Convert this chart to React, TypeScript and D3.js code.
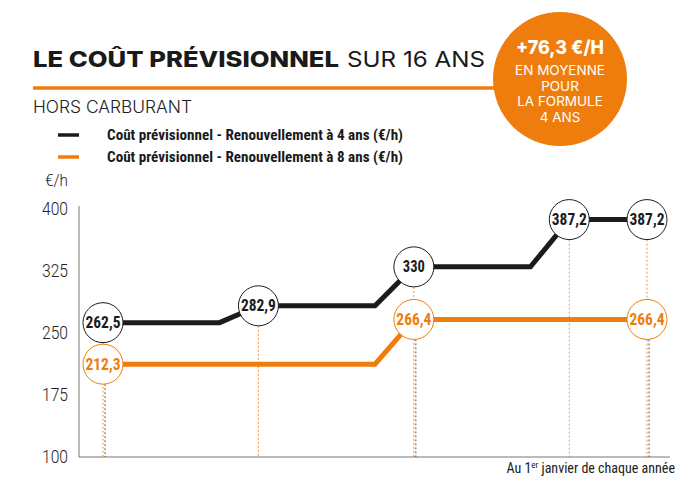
import React from "react";
import * as d3 from "d3";

const years = [0, 4, 8, 12, 14];
const cost4 = [262.5, 282.9, 330, 387.2, 387.2];
const cost8 = [212.3, 212.3, 266.4, 266.4, 266.4];
const cost8Labels = [0, 2, 4]; // indices of labelled nodes for 8-year series
const yTicks = [100, 175, 250, 325, 400];
const fmt = (v: number) => String(v).replace(".", ",");

const W = 700;
const H = 492;
const BLACK = "#1b1b1b";
const ORANGE = "#EE7D0E";
const NARROW = "'Liberation Sans Narrow', 'Roboto Condensed', Roboto, sans-serif";
const LIGHT = "Roboto, 'Liberation Sans', sans-serif";

function stepPoints(vals: number[]): [number, number][] {
  const pts: [number, number][] = [[years[0], vals[0]]];
  for (let i = 1; i < years.length; i++) {
    pts.push([years[i] - 1, vals[i - 1]]);
    pts.push([years[i], vals[i]]);
  }
  return pts;
}

export default function App() {
  const x = d3.scaleLinear().domain([0, 14]).range([103, 647]);
  const y = d3.scaleLinear().domain([100, 400]).range([457, 209]);
  const line = d3
    .line<[number, number]>()
    .x((d) => x(d[0]))
    .y((d) => y(d[1]));
  const R = 20;

  const nodeLabel = (
    cx: number,
    cy: number,
    txt: string,
    color: string,
    key: string
  ) => (
    <g key={key}>
      <circle cx={cx} cy={cy} r={R} fill="#fff" stroke={color} strokeWidth={1} />
      <text
        x={cx}
        y={cy + 5.5}
        textAnchor="middle"
        fontFamily={NARROW}
        fontWeight="bold"
        fontSize={16}
        fill={color}
        textLength={txt.length > 3 ? 35 : 22}
        lengthAdjust="spacingAndGlyphs"
      >
        {txt}
      </text>
    </g>
  );

  return (
    <svg width={W} height={H} style={{ position: "absolute", left: 0, top: 0, background: "#fff" }}>
      {/* Title */}
      <text x={33} y={67} fontFamily="Inter, Roboto, sans-serif" fontSize={22} fill="#1a1a1a">
        <tspan fontWeight="800" textLength={306} lengthAdjust="spacingAndGlyphs">
          LE COÛT PRÉVISIONNEL
        </tspan>
      </text>
      <text
        x={347}
        y={67}
        fontFamily="Inter, Roboto, sans-serif"
        fontSize={22}
        fill="#1a1a1a"
        textLength={138}
        lengthAdjust="spacingAndGlyphs"
      >
        SUR 16 ANS
      </text>
      <line x1={33} x2={500} y1={88} y2={88} stroke={ORANGE} strokeWidth={3.5} />
      <text
        x={33}
        y={113}
        fontFamily="Inter, Roboto, sans-serif"
        fontSize={17}
        fontWeight="300"
        fill="#222"
        textLength={159}
        lengthAdjust="spacingAndGlyphs"
      >
        HORS CARBURANT
      </text>

      {/* Badge */}
      <circle cx={560} cy={79} r={67} fill={ORANGE} />
      <text x={560} y={54} textAnchor="middle" fontFamily="Inter, Roboto, sans-serif" fontWeight="800" fontSize={19} fill="#fff" textLength={88} lengthAdjust="spacingAndGlyphs">
        +76,3 €/H
      </text>
      {["EN MOYENNE", "POUR", "LA FORMULE", "4 ANS"].map((t, i) => (
        <text
          key={t}
          x={560}
          y={75 + i * 15.5}
          textAnchor="middle"
          fontFamily="Inter, Roboto, sans-serif"
          fontSize={13.5}
          fill="#fff"
        >
          {t}
        </text>
      ))}

      {/* Legend */}
      <line x1={58} x2={79} y1={135} y2={135} stroke={BLACK} strokeWidth={3.5} />
      <text x={107} y={140} fontFamily={NARROW} fontWeight="bold" fontSize={15} fill="#1a1a1a" textLength={296} lengthAdjust="spacingAndGlyphs">
        Coût prévisionnel - Renouvellement à 4 ans (€/h)
      </text>
      <line x1={58} x2={79} y1={157} y2={157} stroke={ORANGE} strokeWidth={3.5} />
      <text x={107} y={162} fontFamily={NARROW} fontWeight="bold" fontSize={15} fill="#1a1a1a" textLength={296} lengthAdjust="spacingAndGlyphs">
        Coût prévisionnel - Renouvellement à 8 ans (€/h)
      </text>

      {/* Y unit */}
      <text x={45} y={186} fontFamily={LIGHT} fontWeight="300" fontSize={17} fill="#222" textLength={23} lengthAdjust="spacingAndGlyphs">
        €/h
      </text>

      {/* Y ticks */}
      {yTicks.map((t) => (
        <text
          key={t}
          x={68}
          y={y(t) + 6}
          textAnchor="end"
          fontFamily={LIGHT}
          fontWeight="300"
          fontSize={18}
          fill="#222"
          textLength={26}
          lengthAdjust="spacingAndGlyphs"
        >
          {t}
        </text>
      ))}

      {/* Axes */}
      <line x1={79} x2={79} y1={206} y2={457} stroke="#777" strokeWidth={1} />
      <line x1={79} x2={670} y1={457} y2={457} stroke="#777" strokeWidth={1} />

      {/* Dashed drop lines */}
      {years.map((t, i) => (
        <line
          key={"d4" + i}
          x1={x(t)}
          x2={x(t)}
          y1={y(cost4[i]) + R}
          y2={457}
          stroke={ORANGE}
          strokeWidth={0.8}
          strokeDasharray="2,2"
        />
      ))}
      {cost8Labels.map((i) => (
        <line
          key={"d8" + i}
          x1={x(years[i]) + 2}
          x2={x(years[i]) + 2}
          y1={y(cost8[i]) + R}
          y2={457}
          stroke="#333"
          strokeWidth={0.8}
          strokeDasharray="2,2"
        />
      ))}

      {/* Lines */}
      <path d={line(stepPoints(cost8)) || ""} fill="none" stroke={ORANGE} strokeWidth={5} />
      <path d={line(stepPoints(cost4)) || ""} fill="none" stroke={BLACK} strokeWidth={5} />

      {/* Node labels */}
      {years.map((t, i) => nodeLabel(x(t), y(cost4[i]), fmt(cost4[i]), BLACK, "n4" + i))}
      {cost8Labels.map((i) => nodeLabel(x(years[i]), y(cost8[i]), fmt(cost8[i]), ORANGE, "n8" + i))}

      {/* Footnote */}
      <text x={675} y={473} textAnchor="end" fontFamily={NARROW} fontSize={14} fill="#222">
        Au 1
        <tspan fontSize={9} dy={-5}>er</tspan>
        <tspan dy={5}> janvier de chaque année</tspan>
      </text>
    </svg>
  );
}
